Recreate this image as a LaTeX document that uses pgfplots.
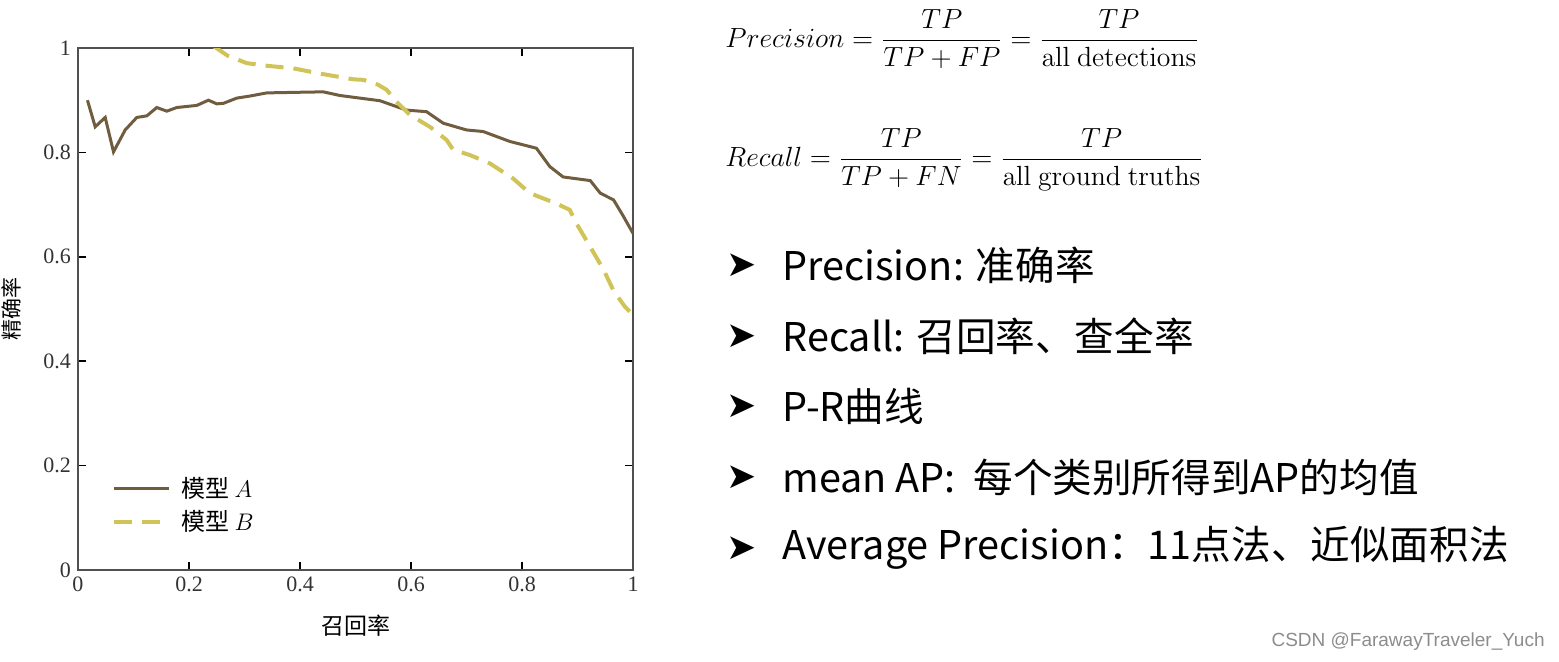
\documentclass[border=0pt]{standalone}
\usepackage{pgfplots}
\pgfplotsset{compat=1.18}
\usepackage{amsmath}
\usepackage{graphicx}
\usepackage[no-math]{fontspec}
\setmainfont{Liberation Serif}
\newfontfamily\cjk{Noto Sans CJK SC}
\newfontfamily\sym{DejaVu Sans}
\newfontfamily\wm{Liberation Sans}
\definecolor{curveA}{RGB}{112,92,62}
\definecolor{curveB}{RGB}{208,196,88}
\definecolor{axgray}{RGB}{80,80,80}

\begin{document}
\begin{tikzpicture}
% page frame in pixel units of the reference (1559 x 661)
\path[use as bounding box] (0,0) rectangle (779.5pt,330.5pt);

\begin{axis}[
    at={(39pt,45.5pt)}, anchor=south west,
    scale only axis, width=277.5pt, height=261pt,
    xmin=0, xmax=1, ymin=0, ymax=1,
    xtick={0,0.2,0.4,0.6,0.8,1},
    ytick={0,0.2,0.4,0.6,0.8,1},
    tick pos=both, tick align=inside,
    major tick length=4pt,
    axis line style={axgray, line width=1pt},
    tick style={black, line width=0.8pt},
    /pgf/number format/assume math mode=true,
    tick label style={font=\fontsize{11}{13}\selectfont, text=black!80},
    xlabel={\cjk 召回率},
    ylabel={\cjk 精确率},
    xlabel style={font=\fontsize{11.5}{13}\selectfont, yshift=-4.5pt},
    ylabel style={font=\fontsize{10.5}{12}\selectfont, yshift=4pt},
    legend style={draw=none, fill=none, at={(0.05,0.194)}, anchor=north west,
        font=\fontsize{12}{14}\selectfont, row sep=1pt},
    legend cell align=left,
    legend image code/.code={\draw[#1] (-1.5pt,0pt) -- (26pt,0pt);},
]
    % model A
    \addplot[curveA, line width=1.5pt] coordinates {
        (0.017,0.900) (0.031,0.849) (0.049,0.867) (0.064,0.801) (0.085,0.843)
        (0.106,0.867) (0.124,0.870) (0.142,0.886) (0.160,0.879) (0.178,0.886)
        (0.214,0.890) (0.235,0.900) (0.250,0.893) (0.262,0.894) (0.286,0.904)
        (0.310,0.908) (0.340,0.914) (0.388,0.915) (0.442,0.916) (0.472,0.909)
        (0.508,0.904) (0.544,0.899) (0.592,0.881) (0.628,0.878) (0.658,0.856)
        (0.700,0.843) (0.730,0.840) (0.778,0.821) (0.826,0.808) (0.850,0.773)
        (0.874,0.753) (0.923,0.746) (0.941,0.722) (0.965,0.709) (0.983,0.677)
        (1.000,0.645)
    };
    \addlegendentry{\hspace{3pt}\cjk 模型\ \normalfont$A$}

    % model B
    \addplot[curveB, line width=2pt, dash pattern=on 9pt off 5pt] coordinates {
        (0.245,1.003) (0.270,0.985) (0.304,0.971) (0.340,0.966) (0.388,0.961)
        (0.436,0.951) (0.496,0.940) (0.514,0.939) (0.540,0.930) (0.556,0.920)
        (0.574,0.897) (0.598,0.872) (0.634,0.849) (0.664,0.824) (0.676,0.805)
        (0.706,0.795) (0.742,0.779) (0.784,0.750) (0.814,0.722) (0.862,0.702)
        (0.886,0.690) (0.898,0.664) (0.923,0.619) (0.947,0.575) (0.965,0.535)
        (0.985,0.505) (1.000,0.489)
    };
    \addlegendentry{\hspace{3pt}\cjk 模型\ \normalfont$B$}
\end{axis}

\begin{scope}[x=0.5pt, y=-0.5pt, yshift=330.5pt]
    % formulas
    \node[anchor=west, inner sep=0pt, font=\fontsize{14.4}{17}\selectfont] at (725,39)
        {\scalebox{0.963}{$\displaystyle Precision=\frac{TP}{TP+FP}=\frac{TP}{\mathrm{all\ detections}}$}};
    \node[anchor=west, inner sep=0pt, font=\fontsize{14.4}{17}\selectfont] at (725,160)
        {\scalebox{0.963}{$\displaystyle Recall=\frac{TP}{TP+FN}=\frac{TP}{\mathrm{all\ ground\ truths}}$}};

    % bullet list
    \foreach \yy/\txt in {
        265/{Precision: 准确率},
        336/{Recall: 召回率、查全率},
        406/{P-R曲线},
        477/{mean AP:\ \ 每个类别所得到AP的均值},
        548/{Average Precision：11点法、近似面积法}} {
        \node[anchor=center, inner sep=0pt, font=\sym\fontsize{18}{20}\selectfont] at (742,\yy) {➤};
        \node[anchor=west, inner sep=0pt, font=\cjk\fontsize{19.8}{22}\selectfont] at (782,\yy) {\txt};
    }

    % watermark
    \node[anchor=east, inner sep=0pt, text=black!45, font=\wm\fontsize{9.5}{11}\selectfont]
        at (1545,642) {CSDN @FarawayTraveler\_Yuch};
\end{scope}
\end{tikzpicture}
\end{document}
